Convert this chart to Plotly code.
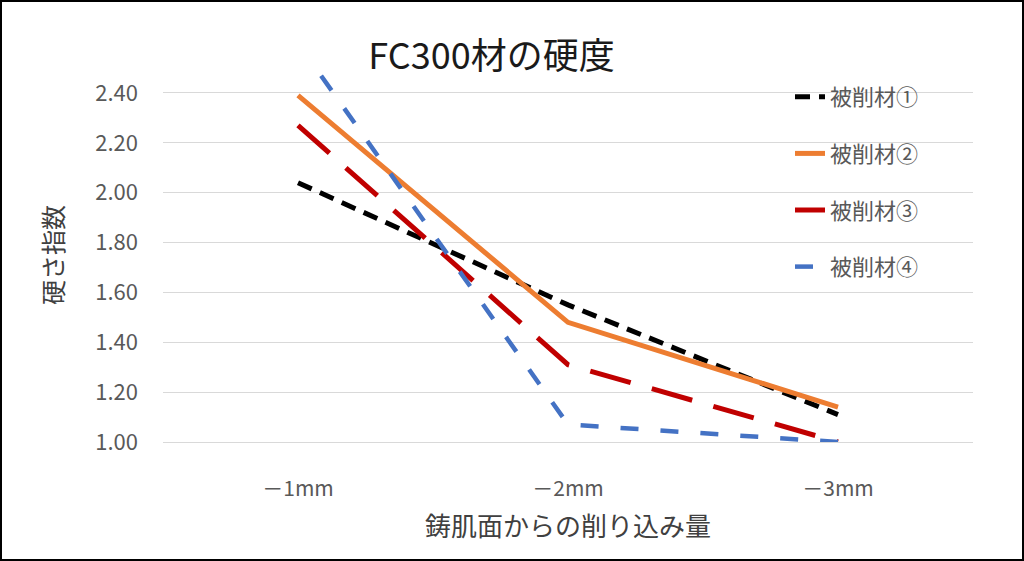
import plotly.graph_objects as go

categories = ["－1mm", "－2mm", "－3mm"]
series_names = ["被削材①", "被削材②", "被削材③", "被削材④"]
s1 = [2.04, 1.55, 1.11]
s2 = [2.39, 1.48, 1.14]
s3 = [2.27, 1.31, 1.00]
s4 = [2.60, 1.07, 1.00]
y_ticks = [1.0, 1.2, 1.4, 1.6, 1.8, 2.0, 2.2, 2.4]

styles = [
    dict(color="#000000", width=5, dash="15px,9px"),
    dict(color="#ED7D31", width=5, dash="solid"),
    dict(color="#C00000", width=5, dash="42px,22px"),
    dict(color="#4472C4", width=4.5, dash="18px,22px"),
]

FONT = "Noto Sans CJK JP"
fig = go.Figure()
for i, (name, vals) in enumerate(zip(series_names, [s1, s2, s3, s4])):
    fig.add_trace(go.Scatter(
        x=categories, y=vals, name=name, mode="lines",
        line=styles[i], legendgroup=f"g{i}",
    ))

L, R, T, B = 163, 51, 68, 119
W, H = 1024, 561
pw, ph = W - L - R, H - T - B

fig.update_layout(
    width=W, height=H,
    margin=dict(l=L, r=R, t=T, b=B),
    paper_bgcolor="white", plot_bgcolor="white",
    font=dict(family=FONT, color="#595959"),
    title=dict(text="FC300材の硬度", x=0.48, xanchor="center", y=0.9, yanchor="middle",
               font=dict(size=36, color="#1a1a1a", family=FONT)),
    xaxis=dict(
        type="category", range=[-0.5, 2.5],
        showgrid=False, showline=True, linecolor="#D9D9D9", linewidth=1,
        ticks="", tickfont=dict(size=21, color="#595959"),
        ticklabelstandoff=28,
        title=dict(text="鋳肌面からの削り込み量", font=dict(size=26, color="#404040"), standoff=16),
    ),
    yaxis=dict(
        range=[1.0, 2.5], tickvals=y_ticks, tickformat=".2f",
        showgrid=True, gridcolor="#D9D9D9", gridwidth=1,
        zeroline=False, showline=False, ticks="",
        tickfont=dict(size=22, color="#595959"),
        ticklabelstandoff=24,
        title=dict(text="硬さ指数", font=dict(size=25, color="#404040"), standoff=24),
    ),
    legend=dict(
        x=(790 - L) / pw, y=(442 - 76) / ph, xanchor="left", yanchor="top",
        font=dict(size=22, color="#595959"), bgcolor="rgba(0,0,0,0)",
        tracegroupgap=25,
    ),
    showlegend=True,
)

fig.add_shape(
    type="rect", xref="paper", yref="paper",
    x0=(1 - L) / pw, x1=(W - 1 - L) / pw,
    y0=(442 - (H - 1)) / ph, y1=(442 - 1) / ph,
    line=dict(color="#000000", width=2), fillcolor="rgba(0,0,0,0)", layer="below",
)

fig.write_html("out.html", config={"displayModeBar": False},
               post_script="document.body.style.margin='0px';")
